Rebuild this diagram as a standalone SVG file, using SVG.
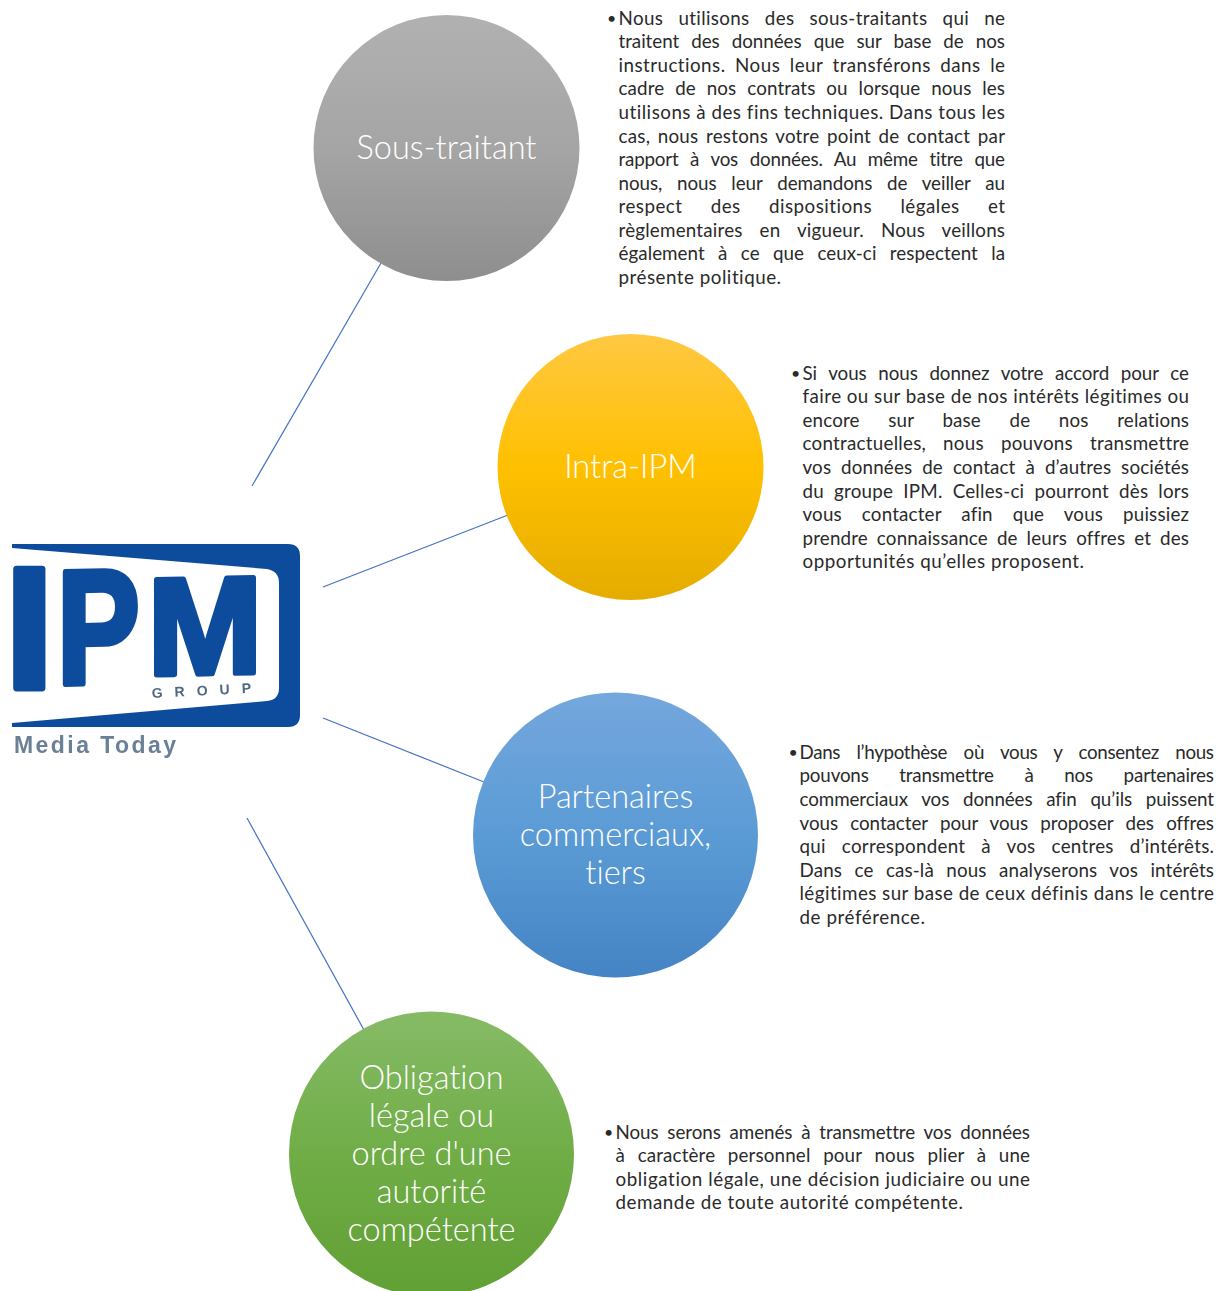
<svg xmlns="http://www.w3.org/2000/svg" width="1231" height="1291" viewBox="0 0 1231 1291">
<style>
.body{font-family:"Lato","Open Sans","Liberation Sans",sans-serif;font-size:18.800px;font-weight:400;fill:#2a2a2a;font-variant-ligatures:none}
.bullet{font-size:16px}
.label{font-family:"Lato","Open Sans","Liberation Sans",sans-serif;font-size:32.500px;font-weight:300;fill:#fff;text-anchor:middle;font-variant-ligatures:none}
.conn{stroke:#4472c4;stroke-width:1.2;fill:none}
.logo{fill:#0f4c9c}
.big{font-family:"Liberation Sans",Arial,sans-serif;font-weight:700;font-size:100px;fill:#0f4c9c;stroke:#0f4c9c;stroke-width:4;stroke-linejoin:round}
</style>
<defs>
<linearGradient id="gGray" x1="0" y1="0" x2="0" y2="1"><stop offset="0" stop-color="#b1b1b1"/><stop offset=".5" stop-color="#a5a5a5"/><stop offset="1" stop-color="#8e8e8e"/></linearGradient>
<linearGradient id="gYellow" x1="0" y1="0" x2="0" y2="1"><stop offset="0" stop-color="#ffc843"/><stop offset=".5" stop-color="#ffc000"/><stop offset="1" stop-color="#e5ac00"/></linearGradient>
<linearGradient id="gBlue" x1="0" y1="0" x2="0" y2="1"><stop offset="0" stop-color="#74a7dd"/><stop offset=".5" stop-color="#5b9bd5"/><stop offset="1" stop-color="#4484c4"/></linearGradient>
<linearGradient id="gGreen" x1="0" y1="0" x2="0" y2="1"><stop offset="0" stop-color="#86bb66"/><stop offset=".5" stop-color="#70ad47"/><stop offset="1" stop-color="#61a034"/></linearGradient>
<filter id="soft" x="-5%" y="-5%" width="110%" height="110%"><feGaussianBlur stdDeviation="0.7"/></filter>
</defs>
<rect width="1231" height="1291" fill="#fff"/>
<g id="connectors">
<line class="conn" x1="381" y1="263" x2="252" y2="486"/>
<line class="conn" x1="508" y1="515" x2="323" y2="587"/>
<line class="conn" x1="484" y1="782" x2="323" y2="718"/>
<line class="conn" x1="364" y1="1030" x2="247" y2="818"/>
</g>
<g id="logo" filter="url(#soft)">
<path class="logo" fill-rule="evenodd" d="M12 544H288Q300 544 300 556V715Q300 727 288 727H12V723L267 701Q279 700 279 688V583Q279 571 267 569L12 548Z"/>
<text class="big" transform="matrix(1.75 0 0 1.72 5 688)" x="0" y="0">I</text>
<text class="big" transform="matrix(1.24 -0.03 0 1.62 57 684)" x="0" y="0">P</text>
<text class="big" transform="matrix(1.38 -0.03 0 1.38 147.500 675)" x="0" y="0">M</text>
<text transform="translate(152 698) rotate(-3)" font-family="Liberation Sans,sans-serif" font-weight="700" font-size="14" letter-spacing="12" fill="#4f6782">GROUP</text>
<text x="14" y="753" font-family="Liberation Sans,sans-serif" font-weight="700" font-size="23" letter-spacing="2" fill="#6b8096" textLength="164">Media Today</text>
</g>
<g id="node-sous-traitant">
<circle cx="446.500" cy="148" r="133" fill="url(#gGray)"/>
<text class="label" x="446.500" y="158.700">Sous-traitant</text>
<text class="body bullet" x="607" y="24">•</text>
<g class="body">
<text x="618.500" y="24.800" word-spacing="10" textLength="386.500">Nous utilisons des sous-traitants qui ne</text>
<text x="618.500" y="48.300" word-spacing="7.300" textLength="386.500">traitent des données que sur base de nos</text>
<text x="618.500" y="71.900" word-spacing="4.300" textLength="386.500">instructions. Nous leur transférons dans le</text>
<text x="618.500" y="95.400" word-spacing="6" textLength="386.500">cadre de nos contrats ou lorsque nous les</text>
<text x="618.500" y="119" textLength="386.500">utilisons à des fins techniques. Dans tous les</text>
<text x="618.500" y="142.500" word-spacing="2.500" textLength="386.500">cas, nous restons votre point de contact par</text>
<text x="618.500" y="166.100" word-spacing="7" textLength="386.500">rapport à vos données. Au même titre que</text>
<text x="618.500" y="189.600" word-spacing="10" textLength="386.500">nous, nous leur demandons de veiller au</text>
<text x="618.500" y="213.200" word-spacing="23" textLength="386.500">respect des dispositions légales et</text>
<text x="618.500" y="236.700" word-spacing="12" textLength="386.500">règlementaires en vigueur. Nous veillons</text>
<text x="618.500" y="260.300" word-spacing="8.500" textLength="386.500">également à ce que ceux-ci respectent la</text>
<text x="618.500" y="283.800" textLength="162.500">présente politique.</text>
</g>
</g>
<g id="node-intra-ipm">
<circle cx="630.500" cy="467" r="133" fill="url(#gYellow)"/>
<text class="label" x="630.500" y="477.700">Intra-IPM</text>
<text class="body bullet" x="791" y="379">•</text>
<g class="body">
<text x="802.500" y="379.800" word-spacing="7" textLength="386.500">Si vous nous donnez votre accord pour ce</text>
<text x="802.500" y="403.300" textLength="386.500">faire ou sur base de nos intérêts légitimes ou</text>
<text x="802.500" y="426.900" word-spacing="23.600" textLength="386.500">encore sur base de nos relations</text>
<text x="802.500" y="450.400" word-spacing="12" textLength="386.500">contractuelles, nous pouvons transmettre</text>
<text x="802.500" y="474" word-spacing="5" textLength="386.500">vos données de contact à d’autres sociétés</text>
<text x="802.500" y="497.500" word-spacing="5" textLength="386.500">du groupe IPM. Celles-ci pourront dès lors</text>
<text x="802.500" y="521.100" word-spacing="15" textLength="386.500">vous contacter afin que vous puissiez</text>
<text x="802.500" y="544.600" word-spacing="4" textLength="386.500">prendre connaissance de leurs offres et des</text>
<text x="802.500" y="567.700" textLength="281.500">opportunités qu’elles proposent.</text>
</g>
</g>
<g id="node-partenaires">
<circle cx="615.500" cy="835" r="142.500" fill="url(#gBlue)"/>
<text class="label" x="615.500" y="807.700">Partenaires</text>
<text class="label" x="615.500" y="845.700">commerciaux,</text>
<text class="label" x="615.500" y="883.700">tiers</text>
<text class="body bullet" x="788.500" y="758">•</text>
<g class="body">
<text x="799.500" y="758.800" word-spacing="12" textLength="414.500">Dans l’hypothèse où vous y consentez nous</text>
<text x="799.500" y="782.400" word-spacing="26" textLength="414.500">pouvons transmettre à nos partenaires</text>
<text x="799.500" y="806" word-spacing="9" textLength="414.500">commerciaux vos données afin qu’ils puissent</text>
<text x="799.500" y="829.600" word-spacing="7.500" textLength="414.500">vous contacter pour vous proposer des offres</text>
<text x="799.500" y="853.200" word-spacing="11" textLength="414.500">qui correspondent à vos centres d’intérêts.</text>
<text x="799.500" y="876.800" word-spacing="7.500" textLength="414.500">Dans ce cas-là nous analyserons vos intérêts</text>
<text x="799.500" y="900.400" textLength="414.500">légitimes sur base de ceux définis dans le centre</text>
<text x="799.500" y="924" textLength="125.500">de préférence.</text>
</g>
</g>
<g id="node-obligation">
<circle cx="431.500" cy="1154" r="142.500" fill="url(#gGreen)"/>
<text class="label" x="431.500" y="1088.700">Obligation</text>
<text class="label" x="431.500" y="1126.700">légale ou</text>
<text class="label" x="431.500" y="1164.700">ordre d'une</text>
<text class="label" x="431.500" y="1202.700">autorité</text>
<text class="label" x="431.500" y="1240.700">compétente</text>
<text class="body bullet" x="604" y="1138">•</text>
<g class="body">
<text x="615.500" y="1138.800" word-spacing="4" textLength="414.500">Nous serons amenés à transmettre vos données</text>
<text x="615.500" y="1162.300" word-spacing="7.700" textLength="414.500">à caractère personnel pour nous plier à une</text>
<text x="615.500" y="1185.900" textLength="414.500">obligation légale, une décision judiciaire ou une</text>
<text x="615.500" y="1209.400" textLength="347.500">demande de toute autorité compétente.</text>
</g>
</g>
</svg>
